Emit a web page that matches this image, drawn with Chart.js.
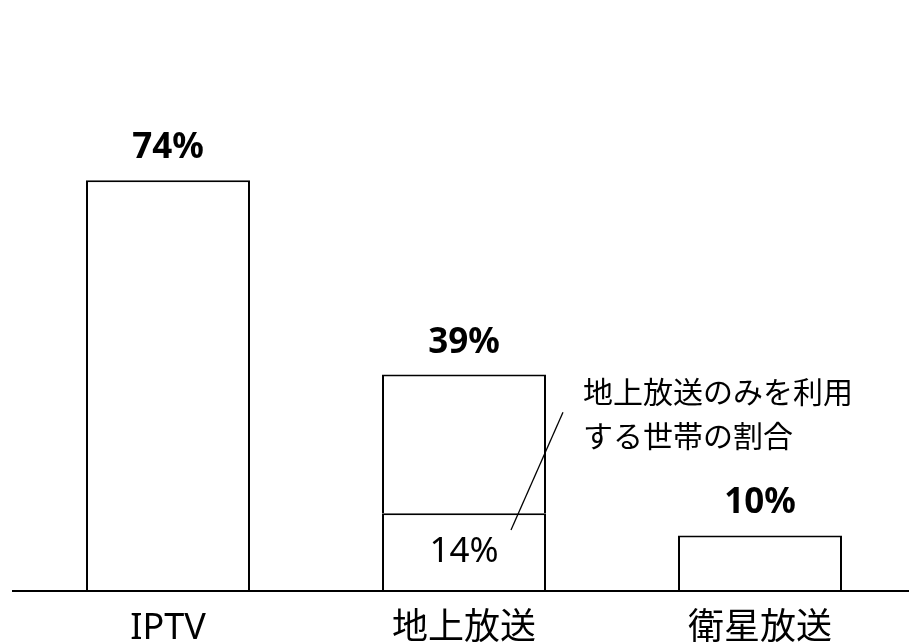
<!DOCTYPE html>
<html>
<head>
<meta charset="utf-8">
<script src="https://cdn.jsdelivr.net/npm/chart.js@4"></script>
<style>
html,body{margin:0;padding:0;background:#fff;}
#wrap{width:909px;height:644px;}
</style>
</head>
<body>
<div id="wrap"><canvas id="c" width="909" height="644"></canvas></div>
<script>
const categories = ["IPTV", "地上放送", "衛星放送"];
const baseValues = [74, 14, 10];
const upperValues = [0, 25, 0];
const totalLabels = ["74%", "39%", "10%"];
const innerLabels = ["", "14%", ""];
const noteLines = ["地上放送のみを利用", "する世帯の割合"];

const FONT = '"Noto Sans", "Noto Sans CJK JP", sans-serif';

const labelPlugin = {
  id: 'labels',
  afterDraw(chart) {
    const ctx = chart.ctx;
    const x = chart.scales.x, y = chart.scales.y;
    ctx.save();
    ctx.strokeStyle = '#000';
    ctx.lineWidth = 2;
    ctx.beginPath();
    ctx.moveTo(12, y.getPixelForValue(0));
    ctx.lineTo(chart.width, y.getPixelForValue(0));
    ctx.stroke();

    ctx.fillStyle = '#000';
    ctx.textAlign = 'center';
    ctx.textBaseline = 'middle';
    const meta = chart.getDatasetMeta(0);
    categories.forEach((c, i) => {
      const total = baseValues[i] + upperValues[i];
      const cx = x.getPixelForValue(i);
      ctx.font = 'bold 35px ' + FONT;
      ctx.fillText(totalLabels[i], cx, y.getPixelForValue(total) - 32);
      if (innerLabels[i]) {
        ctx.font = '35px ' + FONT;
        ctx.fillText(innerLabels[i], cx, y.getPixelForValue(baseValues[i] / 2));
      }
    });
    const bar = meta.data[1];
    const right = bar.x + bar.width / 2;
    ctx.lineWidth = 1.3;
    ctx.beginPath();
    ctx.moveTo(right + 17, y.getPixelForValue(32.2));
    ctx.lineTo(bar.x + 47, y.getPixelForValue(11));
    ctx.stroke();
    ctx.textAlign = 'left';
    ctx.font = '30px ' + FONT;
    ctx.fillText(noteLines[0], right + 37, y.getPixelForValue(35.5));
    ctx.fillText(noteLines[1], right + 37, y.getPixelForValue(27.4));
    ctx.restore();
  }
};

new Chart(document.getElementById('c'), {
  type: 'bar',
  data: {
    labels: categories,
    datasets: [
      { data: baseValues, backgroundColor: '#fff', borderColor: '#000', borderWidth: 2, borderSkipped: 'bottom' },
      { data: upperValues, backgroundColor: '#fff', borderColor: '#000', borderWidth: 2, borderSkipped: 'bottom' }
    ]
  },
  options: {
    responsive: false,
    animation: false,
    events: [],
    layout: { padding: { top: 36, bottom: 2, left: 20, right: 1 } },
    plugins: { legend: { display: false }, tooltip: { enabled: false } },
    datasets: { bar: { categoryPercentage: 1, barPercentage: 0.554 } },
    scales: {
      x: {
        stacked: true,
        grid: { display: false, drawTicks: false },
        border: { display: false },
        ticks: { color: '#000', padding: 16, font: { size: 36, family: FONT, lineHeight: 1.2 } },
        afterFit(scale) { scale.height = 51; }
      },
      y: {
        stacked: true,
        display: false,
        min: 0,
        max: 100
      }
    }
  },
  plugins: [labelPlugin]
});
</script>
</body>
</html>
